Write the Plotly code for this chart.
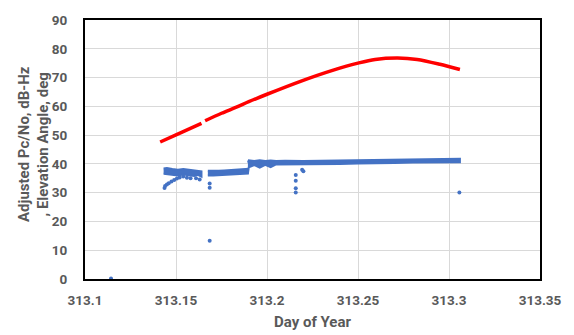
import plotly.graph_objects as go

# ---- Elevation angle (deg) vs day of year; None marks a data gap ----
elev_day = [313.1413, 313.150, 313.157, 313.164, None,
            313.166, 313.175, 313.1828, 313.190, 313.200, 313.2184, 313.236,
            313.2505, 313.2594, 313.2718, 313.2825, 313.295, 313.306]
elev_deg = [47.6, 50.1, 52.1, 54.1, None,
            55.0, 57.6, 59.6, 61.6, 64.2, 68.7, 72.5,
            75.1, 76.3, 76.8, 76.3, 74.6, 72.8]

# ---- Adjusted Pc/No (dB-Hz): dense tracking segments as upper/lower envelopes ----
cn0_seg1_day = [313.1432, 313.1450, 313.1480, 313.1510, 313.1540, 313.1570, 313.1600, 313.1620, 313.1640]
cn0_seg1_hi = [38.4, 38.6, 38.2, 38.0, 38.2, 37.9, 37.8, 37.6, 37.4]
cn0_seg1_lo = [36.6, 36.4, 36.2, 36.0, 36.3, 36.0, 35.8, 36.2, 35.6]

cn0_seg2_day = [313.1675, 313.1705, 313.1735, 313.1765, 313.1800, 313.1835, 313.1865, 313.1895]
cn0_seg2_hi = [37.6, 37.5, 37.6, 37.7, 37.8, 37.9, 38.1, 38.3]
cn0_seg2_lo = [36.0, 36.0, 35.9, 36.2, 36.3, 36.4, 36.5, 36.6]

cn0_seg3_day = [313.1895, 313.190, 313.193, 313.196, 313.199, 313.202, 313.205, 313.210, 313.220,
                313.230, 313.240, 313.250, 313.260, 313.270, 313.280, 313.290, 313.300, 313.306]
cn0_seg3_hi = [40.4, 41.2, 41.0, 41.3, 41.0, 41.2, 41.0, 41.1, 41.0,
               41.1, 41.2, 41.2, 41.3, 41.4, 41.6, 41.7, 41.8, 41.8]
cn0_seg3_lo = [36.6, 38.8, 39.6, 38.7, 39.7, 38.9, 39.8, 39.8, 39.8,
               39.9, 40.0, 40.1, 40.1, 40.3, 40.5, 40.6, 40.6, 40.6]

# Individual Pc/No samples outside the dense bands
cn0_pts_day = [313.1143, 313.1437, 313.1440, 313.1450, 313.1460, 313.1475, 313.1490, 313.1505,
               313.1520, 313.1540, 313.1560, 313.1580, 313.1610, 313.1630,
               313.1685, 313.1685, 313.1685,
               313.2158, 313.2158, 313.2158, 313.2158, 313.2193, 313.2200, 313.3057]
cn0_pts_val = [0.2, 31.6, 32.3, 32.8, 33.3, 33.9, 34.4, 34.9,
               35.3, 35.6, 35.2, 35.0, 35.0, 34.6,
               33.2, 31.7, 13.3,
               36.1, 34.1, 31.5, 30.1, 38.0, 37.4, 30.1]

x_ticks = [313.1, 313.15, 313.2, 313.25, 313.3, 313.35]
x_tick_text = ["313.1", "313.15", "313.2", "313.25", "313.3", "313.35"]
y_ticks = [0, 10, 20, 30, 40, 50, 60, 70, 80, 90]
y_title_lines = ["Adjusted Pc/No, dB-Hz", ", Elevation Angle, deg"]
x_title = "Day of Year"

BLUE = "#4472C4"
RED = "#FF0000"
TXT = "#595959"
FONT = "Roboto"

fig = go.Figure()

for d, hi, lo in [(cn0_seg1_day, cn0_seg1_hi, cn0_seg1_lo),
                  (cn0_seg2_day, cn0_seg2_hi, cn0_seg2_lo),
                  (cn0_seg3_day, cn0_seg3_hi, cn0_seg3_lo)]:
    fig.add_trace(go.Scatter(
        x=d + d[::-1], y=hi + lo[::-1], mode="lines", fill="toself",
        fillcolor=BLUE, line=dict(color=BLUE, width=2), hoverinfo="skip",
        showlegend=False))

fig.add_trace(go.Scatter(
    x=cn0_pts_day, y=cn0_pts_val, mode="markers",
    marker=dict(color=BLUE, size=4), showlegend=False))

fig.add_trace(go.Scatter(
    x=elev_day, y=elev_deg, mode="lines", connectgaps=False,
    line=dict(color=RED, width=3.5, shape="spline", smoothing=0.8), showlegend=False))

tick_font = dict(family=FONT, size=13.5, color=TXT, weight="bold")

fig.update_xaxes(
    range=[313.1, 313.35], tickvals=x_ticks, ticktext=x_tick_text,
    showgrid=True, gridcolor="#D9D9D9", gridwidth=1, zeroline=False,
    showline=True, linecolor="#000000", linewidth=2, mirror=True,
    ticks="outside", ticklen=8, tickcolor="rgba(0,0,0,0)",
    ticklabeloverflow="allow", tickfont=tick_font)
fig.update_yaxes(
    range=[0, 90], tickvals=y_ticks,
    showgrid=True, gridcolor="#D9D9D9", gridwidth=1, zeroline=False,
    showline=True, linecolor="#000000", linewidth=2, mirror=True,
    ticks="outside", ticklen=13, tickcolor="rgba(0,0,0,0)", tickfont=tick_font)

# two rotated lines of the y-axis title, placed left of the tick labels
for line_text, xpx in zip(y_title_lines, [23, 42]):
    fig.add_annotation(
        text=line_text, textangle=-90,
        xref="paper", yref="paper", x=(xpx - 85) / 468, y=0.52,
        xanchor="center", yanchor="middle", showarrow=False,
        font=dict(family=FONT, size=15, color=TXT, weight="bold"))
fig.add_annotation(
    text=x_title, xref="paper", yref="paper", x=0.5, y=-0.167,
    xanchor="center", yanchor="middle", showarrow=False,
    font=dict(family=FONT, size=15, color=TXT, weight="bold"))

fig.update_layout(
    width=574, height=335, margin=dict(l=85, r=21, t=15, b=56),
    paper_bgcolor="white", plot_bgcolor="white")

fig.write_html("out.html")
